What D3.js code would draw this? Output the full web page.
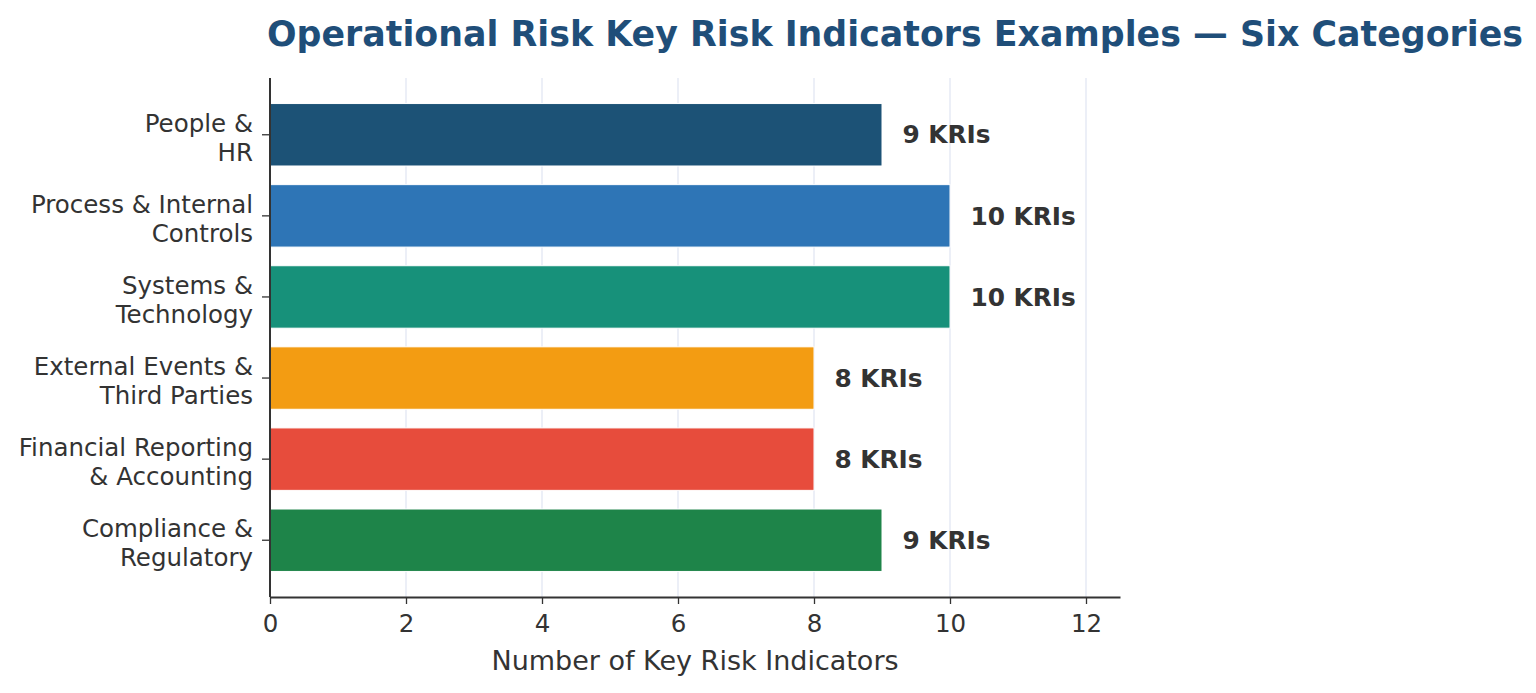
<!DOCTYPE html>
<html><head><meta charset="utf-8">
<script src="https://cdn.jsdelivr.net/npm/d3@7"></script>
<style>body{margin:0;background:#fff;} svg{display:block;font-family:"DejaVu Sans",sans-serif;}</style>
</head><body>
<svg id="c" width="1536" height="693"></svg>
<script>
const categories = [["People &","HR"],["Process & Internal","Controls"],["Systems &","Technology"],["External Events &","Third Parties"],["Financial Reporting","& Accounting"],["Compliance &","Regulatory"]];
const values = [9,10,10,8,8,9];
const colors = ["#1c5276","#2e75b6","#17917a","#f39c12","#e74c3c","#1e8449"];
const xTicks = [0,2,4,6,8,10,12];
const title = "Operational Risk Key Risk Indicators Examples — Six Categories";
const xLabel = "Number of Key Risk Indicators";

const svg = d3.select("#c");
const pL = 270, pR = 1120, pT = 78, pB = 597;
const x = d3.scaleLinear().domain([0,12.5]).range([pL,pR]);
const y = d3.scaleLinear().domain([-0.7,5.7]).range([pT,pB]);
const bh = y(0.385)-y(0);

// grid
svg.append("g").selectAll("line").data(xTicks).join("line")
  .attr("x1",d=>x(d)).attr("x2",d=>x(d)).attr("y1",pT).attr("y2",pB)
  .attr("stroke","#e6eaf4").attr("stroke-width",1.5);

// bars
svg.append("g").selectAll("rect").data(values).join("rect")
  .attr("x",x(0)).attr("y",(d,i)=>y(i)-bh).attr("width",d=>x(d)-x(0)).attr("height",bh*2)
  .attr("fill",(d,i)=>colors[i]).attr("stroke","#fff").attr("stroke-width",1);

// value labels
svg.append("g").selectAll("text").data(values).join("text")
  .attr("x",d=>x(d+0.3)).attr("y",(d,i)=>y(i)).attr("dy","0.35em")
  .attr("font-size",24.8).attr("font-weight","bold").attr("fill","#333")
  .text(d=>d+" KRIs");

// x axis
const xa = svg.append("g").attr("transform",`translate(0,${pB})`)
  .call(d3.axisBottom(x).tickValues(xTicks).tickSize(7).tickPadding(11).tickSizeOuter(0));
xa.select(".domain").attr("stroke","#333").attr("stroke-width",2);
xa.selectAll(".tick line").attr("stroke","#333").attr("stroke-width",1.3);
xa.selectAll(".tick text").attr("font-size",24.5).attr("fill","#333").attr("font-family","DejaVu Sans");

// y axis
svg.append("line").attr("x1",pL).attr("x2",pL).attr("y1",pT).attr("y2",pB).attr("stroke","#333").attr("stroke-width",2);
const yt = svg.append("g").selectAll("g").data(categories).join("g").attr("transform",(d,i)=>`translate(${pL},${y(i)})`);
yt.append("line").attr("x1",-8).attr("x2",0).attr("stroke","#333").attr("stroke-width",1.3);
yt.append("text").attr("text-anchor","end").attr("font-size",24.5).attr("fill","#333")
  .selectAll("tspan").data(d=>d).join("tspan")
  .attr("x",-17).attr("y",(d,j)=>j===0?-3:26).text(d=>d);

// labels
svg.append("text").attr("x",695).attr("y",670).attr("text-anchor","middle").attr("font-size",27).attr("fill","#333").text(xLabel);
svg.append("text").attr("x",895).attr("y",46).attr("text-anchor","middle").attr("font-size",34.8).attr("font-weight","bold").attr("fill","#1f4e79").text(title);
</script>
</body></html>
